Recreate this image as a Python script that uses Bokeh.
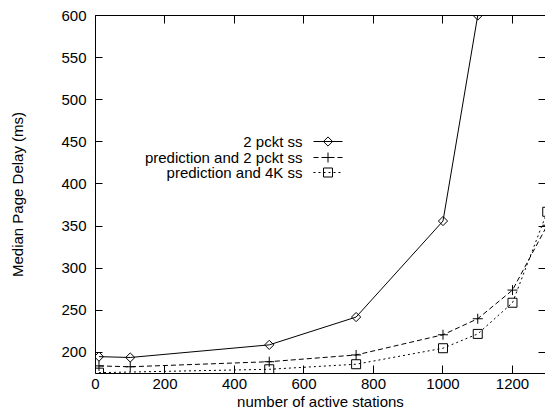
import numpy as np
from bokeh.plotting import figure
from bokeh.models import Range1d, FixedTicker, LinearAxis, CustomJSTickFormatter
from bokeh.core.properties import value
from bokeh.embed import file_html
from bokeh.resources import INLINE

# ---- data ----
x_2pckt = [10, 100, 500, 750, 1000, 1100]
y_2pckt = [195, 194, 209, 242, 356, 600]

x_pred2 = [10, 100, 500, 750, 1000, 1100, 1200, 1300]
y_pred2 = [184, 183, 189, 197, 221, 240, 274, 351]

x_pred4k = [10, 500, 750, 1000, 1100, 1200, 1300]
y_pred4k = [176, 180, 186, 205, 222, 259, 367]

series_names = ["2 pckt ss", "prediction and 2 pckt ss", "prediction and 4K ss"]
x_ticks = [0, 200, 400, 600, 800, 1000, 1200]
y_ticks = [200, 250, 300, 350, 400, 450, 500, 550, 600]

X0, X1 = 0, 1295
Y0, Y1 = 175, 600
FONT = "Liberation Sans"
FS = "15px"

W, H = 545, 413
FL, FT, FR, FB = 95, 15, 545, 373  # frame edges in px


def dx(px):
    return X0 + (px - FL) / (FR - FL) * (X1 - X0)


def dy(py):
    return Y1 - (py - FT) / (FB - FT) * (Y1 - Y0)


p = figure(width=W, height=H, output_backend="svg", toolbar_location=None,
           x_range=Range1d(X0, X1), y_range=Range1d(Y0, Y1),
           min_border_left=FL, min_border_top=FT, min_border_right=W - FR,
           min_border_bottom=H - FB)
p.outline_line_color = None
p.xgrid.visible = False
p.ygrid.visible = False
p.background_fill_color = "white"
p.border_fill_color = "white"


def style_axis(ax, ticks, tick_in, line=True):
    ax.ticker = FixedTicker(ticks=ticks)
    ax.major_tick_in = tick_in
    ax.major_tick_out = 0
    ax.minor_tick_line_color = None
    ax.major_tick_line_color = "black"
    ax.axis_line_color = "black" if line else None
    ax.major_label_text_font = FONT
    ax.major_label_text_font_size = FS
    ax.major_label_text_color = "black"
    ax.axis_label_text_font = FONT
    ax.axis_label_text_font_size = FS
    ax.axis_label_text_font_style = "normal"
    ax.axis_label_text_color = "black"


xa = p.xaxis[0]
style_axis(xa, x_ticks, 8)
xa.axis_label = "number of active stations"
xa.major_label_standoff = 5
xa.axis_label_standoff = 1

ya = p.yaxis[0]
style_axis(ya, y_ticks, 7)
ya.axis_label = "Median Page Delay (ms)"
ya.major_label_standoff = 9
ya.axis_label_standoff = 32

# mirrored border ticks (top and right), gnuplot style, no labels
blank = CustomJSTickFormatter(code="return ''")
top = LinearAxis(formatter=blank)
style_axis(top, x_ticks, 8)
top.major_label_standoff = 0
p.add_layout(top, "above")

right = LinearAxis(formatter=blank)
style_axis(right, y_ticks, 7, line=False)
right.major_label_standoff = 0
p.add_layout(right, "right")

# ---- series ----
p.line(x_2pckt, y_2pckt, line_color="black", line_width=1)
p.scatter(x_2pckt, y_2pckt, marker="square", angle=np.pi / 4, size=6.5,
          line_color="black", fill_color=None, line_width=1)

p.line(x_pred2, y_pred2, line_color="black", line_width=1, line_dash="5 3")
p.scatter(x_pred2, y_pred2, marker="cross", size=10, line_color="black", line_width=1)

p.line(x_pred4k, y_pred4k, line_color="black", line_width=1, line_dash="2 3")
p.scatter(x_pred4k, y_pred4k, marker="square", size=9, line_color="black",
          fill_color=None, line_width=1)

# ---- gnuplot-style key (text left, sample right) ----
rows_py = [141, 157, 172]
text_px = 302
s0, s1, sm = 313, 342, 327.5
dashes = ["solid", "5 3", "2 3"]
markers = [("square", np.pi / 4, 6.5), ("cross", 0, 10), ("square", 0, 9)]
for name, py, dash, (mk, ang, sz) in zip(series_names, rows_py, dashes, markers):
    p.text([dx(text_px)], [dy(py)], text=[name], text_align="right",
           text_baseline="middle", text_font=value(FONT), text_font_size=FS,
           text_color="black")
    p.line([dx(s0), dx(s1)], [dy(py), dy(py)], line_color="black", line_dash=dash)
    p.scatter([dx(sm)], [dy(py)], marker=mk, angle=ang, size=sz,
              line_color="black", fill_color=None)

open("out.html", "w").write(file_html(p, INLINE))
